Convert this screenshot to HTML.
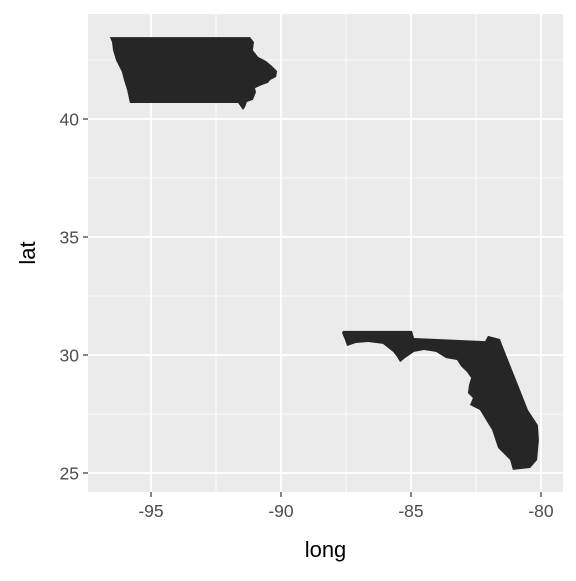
<!DOCTYPE html>
<html><head><meta charset="utf-8"><style>
body{margin:0;background:#fff;font-family:"Liberation Sans",sans-serif}
</style></head><body>
<svg id="chart" width="576" height="576" xmlns="http://www.w3.org/2000/svg"></svg>
<script>
const iowaLon=[-96.58,-91.19,-91.04,-91.08,-90.88,-90.58,-90.35,-90.15,-90.19,-90.42,-90.5,-90.73,-91.0,-90.96,-91.08,-91.31,-91.38,-91.46,-91.65,-95.81,-95.92,-96.04,-96.12,-96.35,-96.46,-96.5,-96.54];
const iowaLat=[43.47,43.47,43.26,42.92,42.63,42.46,42.25,42.03,41.78,41.65,41.53,41.44,41.31,41.14,40.81,40.72,40.51,40.38,40.68,40.68,41.23,41.65,41.99,42.5,42.92,43.26,43.35];
const flLon=[-87.62,-84.96,-84.88,-82.15,-82.04,-81.58,-81.46,-81.19,-80.88,-80.5,-80.12,-80.08,-80.15,-80.42,-81.08,-81.19,-81.65,-81.88,-82.12,-82.35,-82.73,-82.62,-82.81,-82.77,-82.69,-82.85,-83.08,-83.23,-83.65,-84.04,-84.5,-84.88,-85.23,-85.42,-85.54,-85.69,-86.08,-86.65,-87.12,-87.46,-87.54,-87.65];
const flLat=[31.02,31.02,30.72,30.59,30.81,30.68,30.34,29.58,28.73,27.67,27.03,26.40,25.55,25.21,25.13,25.55,26.06,26.82,27.25,27.67,27.88,28.18,28.39,28.73,29.03,29.28,29.53,29.79,29.87,30.13,30.21,30.13,29.87,29.70,29.92,30.13,30.47,30.55,30.51,30.38,30.64,30.93];
const xTicks=[-95,-90,-85,-80];
const yTicks=[25,30,35,40];
const xMinor=[-92.5,-87.5,-82.5];
const yMinor=[27.5,32.5,37.5,42.5];
const svg=document.getElementById('chart');
const NS='http://www.w3.org/2000/svg';
const L=88,R=563,T=14,B=492;
const xs=v=>151+(v+95)*26;
const ys=v=>119-(v-40)*23.6;
function mk(t,a){const e=document.createElementNS(NS,t);for(const k in a)e.setAttribute(k,a[k]);svg.appendChild(e);return e;}
let p=mk('rect',{x:L,y:T,width:R-L,height:B-T,fill:'#ebebeb'});


xMinor.forEach(v=>{const l=mk('line',{x1:xs(v),x2:xs(v),y1:T,y2:B,stroke:'#fff','stroke-width':0.8});

});
yMinor.forEach(v=>{const l=mk('line',{x1:L,x2:R,y1:ys(v),y2:ys(v),stroke:'#fff','stroke-width':0.8});

});
xTicks.forEach(v=>{const l=mk('line',{x1:xs(v),x2:xs(v),y1:T,y2:B,stroke:'#fff','stroke-width':1.8});


const t=mk('line',{x1:xs(v),x2:xs(v),y1:B,y2:B+5,stroke:'#333','stroke-width':1.2});


const tx=mk('text',{x:xs(v),y:B+25,'text-anchor':'middle','font-size':17.5,fill:'#4d4d4d'});tx.textContent=v;

});
yTicks.forEach(v=>{const l=mk('line',{x1:L,x2:R,y1:ys(v),y2:ys(v),stroke:'#fff','stroke-width':1.8});


const t=mk('line',{x1:L-5,x2:L,y1:ys(v),y2:ys(v),stroke:'#333','stroke-width':1.2});


const tx=mk('text',{x:L-9,y:ys(v)+6.5,'text-anchor':'end','font-size':17.5,fill:'#4d4d4d'});tx.textContent=v;

});
function poly(lon,lat,name){const pts=lon.map((v,i)=>xs(v).toFixed(1)+','+ys(lat[i]).toFixed(1)).join(' ');
const e=mk('polygon',{points:pts,fill:'#262626'});

}
poly(iowaLon,iowaLat,'iowa-polygon');
poly(flLon,flLat,'florida-polygon');
const xt=mk('text',{x:(L+R)/2,y:557,'text-anchor':'middle','font-size':22,fill:'#000'});xt.textContent='long';


const yt=mk('text',{x:0,y:0,'text-anchor':'middle','font-size':22,fill:'#000',transform:'translate(35,'+((T+B)/2)+') rotate(-90)'});yt.textContent='lat';


</script>
</body></html>
